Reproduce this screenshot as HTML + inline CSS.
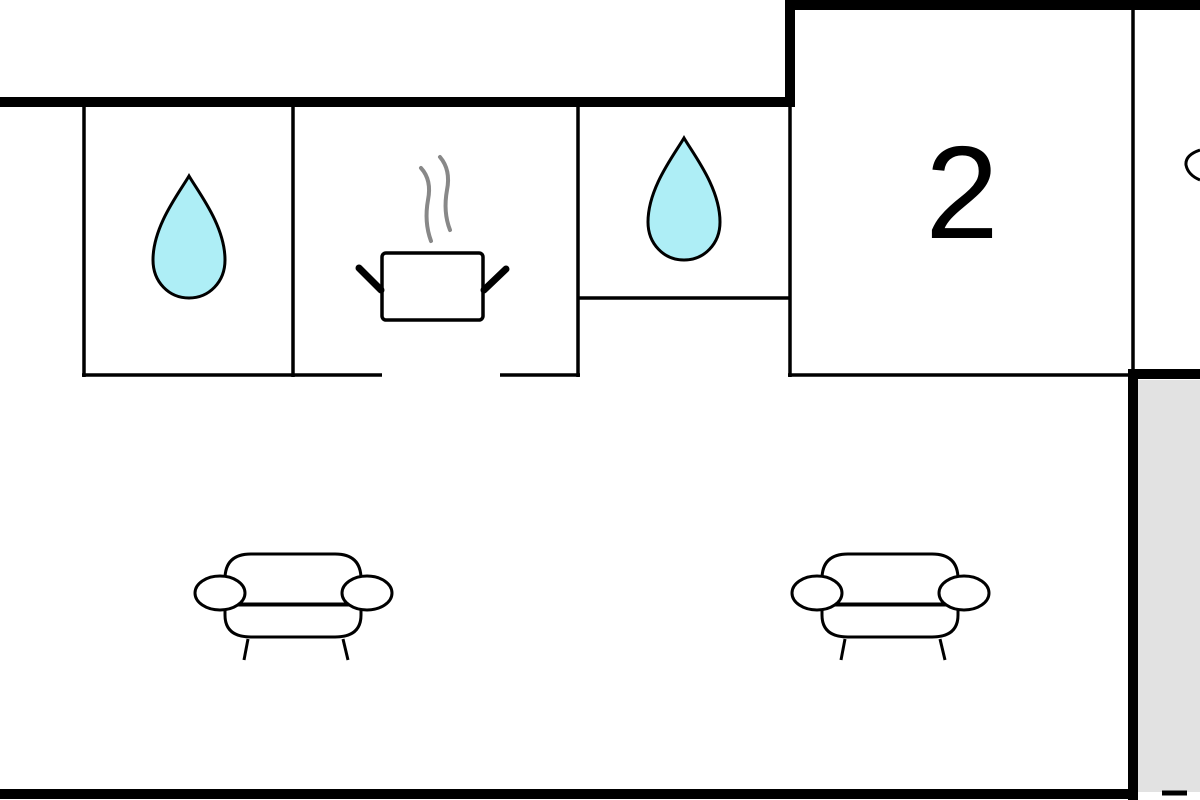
<!DOCTYPE html>
<html><head><style>html,body{margin:0;padding:0;background:#fff}svg{display:block}</style></head>
<body>
<svg width="1200" height="800" viewBox="0 0 1200 800" xmlns="http://www.w3.org/2000/svg">
<defs>
<g id="sofa" fill="#fff" stroke="#000" stroke-width="3">
  <path d="M-68,10 L-68,-18 Q-68,-43 -42,-43 L42,-43 Q68,-43 68,-18 L68,10 Z"/>
  <path d="M-68,8 L-68,18 Q-68,40 -42,40 L42,40 Q68,40 68,18 L68,8 Z"/>
  <line x1="-68" y1="7" x2="68" y2="7"/>
  <ellipse cx="-73" cy="-4" rx="25" ry="17"/>
  <ellipse cx="74" cy="-4" rx="25" ry="17"/>
  <line x1="-45" y1="42" x2="-49" y2="63"/>
  <line x1="50" y1="42" x2="55" y2="63"/>
</g>
<path id="drop" d="M0,-62 C10,-45 36,-12 36,22 C36,44 20,60 0,60 C-20,60 -36,44 -36,22 C-36,-12 -10,-45 0,-62 Z" fill="#aeeef6" stroke="#000" stroke-width="3"/>
</defs>
<rect x="1138" y="380" width="62" height="412" fill="#e2e2e2"/>
<g stroke="#000" stroke-width="10" fill="none">
  <line x1="0" y1="102" x2="795" y2="102"/>
  <line x1="790" y1="0" x2="790" y2="106"/>
  <line x1="786" y1="5" x2="1200" y2="5"/>
  <line x1="1133" y1="370" x2="1133" y2="800"/>
  <line x1="1128" y1="374" x2="1200" y2="374"/>
  <line x1="0" y1="794" x2="1137" y2="794"/>
</g>
<line x1="1162" y1="793" x2="1187" y2="793" stroke="#000" stroke-width="5"/>
<g stroke="#000" stroke-width="3.5" fill="none">
  <line x1="84" y1="105" x2="84" y2="377"/>
  <line x1="293" y1="105" x2="293" y2="377"/>
  <line x1="578" y1="105" x2="578" y2="377"/>
  <line x1="790" y1="105" x2="790" y2="377"/>
  <line x1="1133" y1="10" x2="1133" y2="376"/>
  <line x1="82" y1="375" x2="382" y2="375"/>
  <line x1="500" y1="375" x2="580" y2="375"/>
  <line x1="578" y1="298" x2="790" y2="298"/>
  <line x1="788" y1="375" x2="1134" y2="375"/>
</g>
<use href="#drop" x="189" y="238"/>
<use href="#drop" x="684" y="200"/>
<g stroke="#888" stroke-width="4" fill="none" stroke-linecap="round">
  <path d="M421,168 Q432,180 428,200 Q424,222 431,241"/>
  <path d="M440,157 Q451,170 447,190 Q443,212 450,230"/>
</g>
<rect x="382" y="253" width="101" height="67" rx="4" fill="#fff" stroke="#000" stroke-width="3.5"/>
<line x1="359" y1="268" x2="381" y2="290" stroke="#000" stroke-width="7" stroke-linecap="round"/>
<line x1="506" y1="269" x2="484" y2="290" stroke="#000" stroke-width="7" stroke-linecap="round"/>
<text x="962" y="238" font-family="Liberation Sans, sans-serif" font-size="132" text-anchor="middle" fill="#000">2</text>
<path d="M1200,150 Q1185,155 1186,165 Q1188,175 1200,180" fill="none" stroke="#000" stroke-width="3"/>
<use href="#sofa" x="293" y="597"/>
<use href="#sofa" x="890" y="597"/>
</svg>
</body></html>
